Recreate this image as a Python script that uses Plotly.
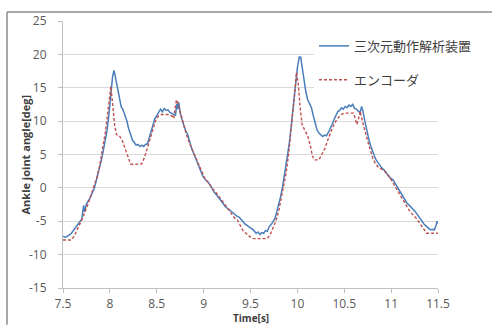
import plotly.graph_objects as go

# ---- data ----
t_motion = [7.50, 7.53, 7.56, 7.59, 7.62, 7.65, 7.68, 7.70, 7.72, 7.73, 7.75, 7.77, 7.79, 7.81, 7.83, 7.85,
            7.87, 7.89, 7.91, 7.93, 7.95, 7.97, 7.99, 8.01, 8.03, 8.045, 8.06, 8.08, 8.10, 8.12, 8.14, 8.16,
            8.18, 8.20, 8.22, 8.24, 8.26, 8.28, 8.30, 8.32, 8.34, 8.36, 8.38, 8.40, 8.42, 8.44, 8.46, 8.48,
            8.50, 8.52, 8.54, 8.56, 8.58, 8.60, 8.62, 8.64, 8.66, 8.68, 8.70, 8.715, 8.725, 8.735, 8.75, 8.77,
            8.79, 8.81, 8.83, 8.85, 8.87, 8.89, 8.91, 8.93, 8.95, 8.97, 8.99, 9.02, 9.05, 9.08, 9.11, 9.14,
            9.17, 9.20, 9.23, 9.26, 9.29, 9.32, 9.35, 9.38, 9.41, 9.44, 9.47, 9.50, 9.53, 9.56, 9.58, 9.60,
            9.62, 9.64, 9.66, 9.68, 9.70, 9.72, 9.74, 9.76, 9.78, 9.80, 9.82, 9.84, 9.86, 9.88, 9.90, 9.92,
            9.94, 9.96, 9.98, 10.00, 10.02, 10.035, 10.05, 10.07, 10.09, 10.11, 10.13, 10.15, 10.17, 10.19,
            10.21, 10.23, 10.25, 10.27, 10.29, 10.31, 10.33, 10.35, 10.37, 10.39, 10.41, 10.43, 10.45, 10.47,
            10.49, 10.51, 10.53, 10.55, 10.57, 10.59, 10.61, 10.63, 10.65, 10.67, 10.685, 10.70, 10.72, 10.74,
            10.76, 10.78, 10.80, 10.82, 10.84, 10.86, 10.88, 10.90, 10.93, 10.96, 10.99, 11.02, 11.05, 11.08,
            11.11, 11.14, 11.17, 11.20, 11.23, 11.26, 11.29, 11.32, 11.35, 11.38, 11.40, 11.42, 11.44, 11.46,
            11.48, 11.49, 11.50]
a_motion = [-7.3, -7.4, -7.1, -6.8, -6.2, -5.6, -5.0, -4.7, -2.6, -3.6, -2.4, -2.0, -1.5, -0.8, -0.2, 0.8,
            1.8, 2.8, 4.2, 5.6, 7.0, 8.6, 11.0, 13.8, 16.8, 17.6, 16.6, 15.2, 13.8, 12.2, 11.7, 11.0,
            10.1, 8.9, 7.9, 7.2, 6.8, 6.4, 6.5, 6.2, 6.4, 6.2, 6.5, 6.6, 7.5, 8.4, 9.4, 10.4,
            10.8, 11.4, 11.8, 11.4, 11.9, 11.6, 11.7, 11.3, 11.2, 11.0, 10.9, 12.6, 11.8, 12.8, 11.2, 10.2,
            9.2, 8.5, 8.0, 6.8, 6.0, 5.3, 4.6, 4.0, 3.3, 2.6, 1.8, 1.2, 0.8, 0.2, -0.6, -1.1,
            -1.6, -2.2, -2.8, -3.1, -3.5, -3.8, -4.2, -4.4, -4.9, -5.4, -5.7, -6.0, -6.3, -6.8, -6.6, -7.0,
            -6.7, -6.8, -6.4, -6.5, -5.8, -5.5, -5.0, -4.6, -3.6, -2.6, -1.4, 0.0, 1.6, 3.4, 5.4, 7.4,
            10.0, 13.0, 15.6, 18.0, 19.6, 19.6, 18.2, 16.2, 14.4, 13.2, 12.6, 12.0, 10.8, 9.6,
            8.7, 8.2, 7.9, 7.7, 7.9, 7.8, 8.3, 8.8, 9.5, 10.2, 10.9, 11.4, 11.6, 12.0,
            11.8, 12.2, 12.0, 12.4, 12.2, 12.5, 11.9, 11.8, 11.5, 11.3, 12.2, 11.5, 10.0, 8.4,
            7.4, 6.4, 5.4, 4.8, 4.2, 3.8, 3.4, 3.0, 2.6, 2.0, 1.5, 1.2, 0.5, -0.2,
            -1.0, -1.6, -2.3, -2.7, -3.1, -3.6, -4.2, -4.8, -5.4, -5.8, -6.1, -6.3, -6.2, -6.3,
            -5.6, -5.0, -5.3]

t_encoder = [7.50, 7.59, 7.62, 7.65, 7.68, 7.71, 7.74, 7.77, 7.80, 7.83, 7.86, 7.89, 7.92, 7.95, 7.98, 8.00,
             8.01, 8.03, 8.05, 8.07, 8.10, 8.13, 8.16, 8.19, 8.22, 8.25, 8.31, 8.34, 8.37, 8.40, 8.43, 8.46,
             8.49, 8.52, 8.55, 8.63, 8.66, 8.68, 8.70, 8.71, 8.73, 8.75, 8.77, 8.80, 8.83, 8.86, 8.89, 8.92,
             8.95, 8.98, 9.01, 9.05, 9.10, 9.15, 9.20, 9.25, 9.30, 9.33, 9.36, 9.39, 9.42, 9.45, 9.48, 9.52,
             9.68, 9.71, 9.74, 9.77, 9.80, 9.83, 9.86, 9.88, 9.91, 9.94, 9.97, 9.99, 10.01, 10.03, 10.05, 10.08,
             10.11, 10.14, 10.16, 10.18, 10.23, 10.26, 10.29, 10.32, 10.35, 10.38, 10.41, 10.44, 10.47, 10.50,
             10.60, 10.62, 10.635, 10.65, 10.67, 10.69, 10.72, 10.75, 10.78, 10.81, 10.84, 10.87, 10.90, 10.93,
             10.96, 10.99, 11.03, 11.07, 11.11, 11.15, 11.19, 11.23, 11.27, 11.31, 11.35, 11.38, 11.50]
a_encoder = [-7.8, -7.8, -7.2, -6.4, -5.4, -4.5, -3.5, -2.3, -1.0, 0.2, 1.5, 3.2, 5.5, 8.2, 11.5, 14.5,
             15.2, 12.5, 9.5, 8.0, 7.8, 7.2, 6.0, 4.6, 3.6, 3.5, 3.5, 3.6, 4.6, 6.0, 7.5, 9.0,
             10.2, 10.8, 11.0, 11.0, 10.8, 10.4, 12.0, 13.2, 12.5, 11.4, 10.0, 8.8, 7.4, 6.2, 5.3, 4.4,
             3.5, 2.5, 1.5, 0.8, -0.2, -1.0, -2.0, -3.0, -4.0, -4.5, -4.8, -5.6, -6.4, -6.8, -7.2, -7.6,
             -7.6, -7.0, -6.0, -5.0, -3.5, -1.5, 0.5, 2.2, 5.5, 9.5, 14.0, 17.3, 15.5, 12.0, 9.5, 8.6,
             7.8, 6.2, 4.8, 4.2, 4.2, 5.0, 5.8, 7.0, 8.2, 9.2, 10.0, 10.6, 11.0, 11.2,
             11.2, 10.4, 9.5, 10.2, 11.5, 10.2, 8.4, 7.0, 5.6, 4.2, 3.5, 3.0, 2.8, 2.5,
             2.0, 1.5, 0.5, -0.5, -1.5, -2.5, -3.3, -4.0, -4.6, -5.4, -6.3, -6.8, -6.8]

series_names = ["三次元動作解析装置", "エンコーダ"]
x_tick_vals = [7.5, 8, 8.5, 9, 9.5, 10, 10.5, 11, 11.5]
x_tick_text = ["7.5", "8", "8.5", "9", "9.5", "10", "10.5", "11", "11.5"]
y_tick_vals = [-15, -10, -5, 0, 5, 10, 15, 20, 25]
y_tick_text = ["-15", "-10", "-5", "0", "5", "10", "15", "20", "25"]
x_title = "Time[s]"
y_title = "Ankle joint angle[deg]"

FONT = "Open Sans, Liberation Sans, Noto Sans CJK JP, sans-serif"
JFONT = "Noto Sans CJK JP, sans-serif"

W, H = 492, 325
ML, MR, MT, MB = 63, 54, 19, 37
PW, PH = W - ML - MR, H - MT - MB


def px_to_paper_x(px):
    return (px - ML) / PW


def py_to_paper_y(py):
    return (H - MB - py) / PH


fig = go.Figure()
fig.add_trace(go.Scatter(x=t_motion, y=a_motion, mode="lines", name=series_names[0],
                         legendgroup="a",
                         line=dict(color="#4a7ebb", width=1.5)))
fig.add_trace(go.Scatter(x=t_encoder, y=a_encoder, mode="lines", name=series_names[1],
                         legendgroup="b",
                         line=dict(color="#c0504d", width=1.4, dash="3px,2px")))

tickfont = dict(family=FONT, size=12, color="#595959")

fig.update_xaxes(range=[7.5, 11.5], tickmode="array", tickvals=x_tick_vals, ticktext=x_tick_text,
                 showline=True, linecolor="#bfbfbf", linewidth=1,
                 ticks="outside", ticklen=4, tickcolor="#bfbfbf",
                 showgrid=False, zeroline=False, tickfont=tickfont, ticklabelstandoff=1)
fig.update_yaxes(range=[-15, 25], tickmode="array", tickvals=y_tick_vals, ticktext=y_tick_text,
                 showline=True, linecolor="#bfbfbf", linewidth=1,
                 ticks="outside", ticklen=4, tickcolor="#bfbfbf",
                 showgrid=True, gridcolor="#d9d9d9", gridwidth=1, zeroline=False,
                 tickfont=tickfont, ticklabelstandoff=9)

border = dict(color="#8c8c8c", width=1.5)
fig.update_layout(
    width=W, height=H,
    margin=dict(l=ML, r=MR, t=MT, b=MB),
    paper_bgcolor="white", plot_bgcolor="white",
    showlegend=True,
    legend=dict(x=px_to_paper_x(314), xanchor="left", y=py_to_paper_y(29), yanchor="top",
                bgcolor="white", borderwidth=0, tracegroupgap=14,
                font=dict(family=JFONT, size=13, color="#404040"), itemwidth=30),
    annotations=[
        dict(text="<b>" + y_title + "</b>", xref="paper", yref="paper",
             x=px_to_paper_x(25), y=0.5, textangle=-90, showarrow=False,
             xanchor="center", yanchor="middle",
             font=dict(family=FONT, size=11, color="#404040")),
        dict(text="<b>" + x_title + "</b>", xref="paper", yref="paper",
             x=0.5, y=py_to_paper_y(309), showarrow=False,
             xanchor="center", yanchor="top",
             font=dict(family=FONT, size=10, color="#404040")),
    ],
    shapes=[
        dict(type="line", xref="paper", yref="paper",
             x0=px_to_paper_x(7), x1=px_to_paper_x(W), y0=py_to_paper_y(10), y1=py_to_paper_y(10),
             line=border, layer="above"),
        dict(type="line", xref="paper", yref="paper",
             x0=px_to_paper_x(7), x1=px_to_paper_x(7), y0=py_to_paper_y(10), y1=py_to_paper_y(H),
             line=border, layer="above"),
    ],
)

fig.write_html("out.html",
               config={"displayModeBar": False},
               post_script="document.body.style.margin='0';document.body.style.overflow='hidden';")
